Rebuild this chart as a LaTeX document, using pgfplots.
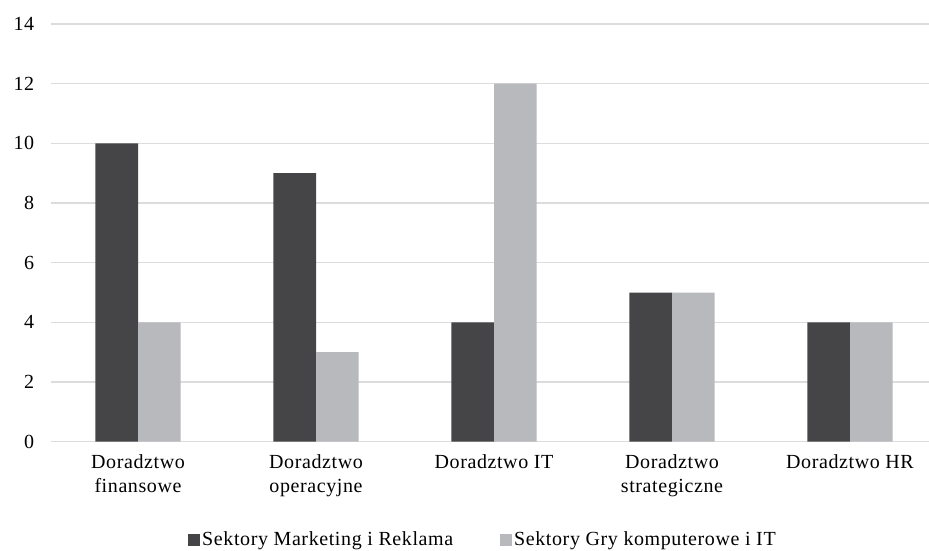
\documentclass[border=0pt]{standalone}
\usepackage{pgfplots}
\pgfplotsset{compat=1.18}
\usepackage{fontspec}
\setmainfont{Liberation Serif}[LetterSpace=3]
\definecolor{darkbar}{HTML}{454548}
\definecolor{lightbar}{HTML}{B8B9BC}
\definecolor{gridc}{HTML}{DCDCDC}
\begin{document}
\fontsize{20pt}{24pt}\selectfont
\begin{tikzpicture}
\path[use as bounding box] (0,0) rectangle (929pt,551pt);
\begin{axis}[
  at={(51pt,109.3pt)}, anchor=south west,
  scale only axis, width=878pt, height=417.7pt,
  xmin=-0.4888, xmax=4.4438,
  ymin=0, ymax=14,
  ytick={0,2,...,14},
  xtick={0,1,2,3,4},
  xticklabels={{Doradztwo\\finansowe},{Doradztwo\\operacyjne},{Doradztwo IT},{Doradztwo\\strategiczne},{Doradztwo HR}},
  xticklabel style={align=center, font=\fontsize{20pt}{24pt}\selectfont, yshift=-6pt},
  yticklabel style={font=\fontsize{20pt}{24pt}\selectfont, xshift=-10pt},
  /pgf/number format/assume math mode=true,
  axis line style={draw=none},
  major tick length=0pt,
  ymajorgrids, grid style={gridc, line width=1.3pt},
  ybar, bar width=0.239, 
  legend style={at={(0.492,-0.235)}, anchor=center, draw=none, legend columns=2,
    font=\fontsize{20pt}{24pt}\selectfont,
    /tikz/every even column/.append style={column sep=45pt}},
  legend image code/.code={\fill[#1] (0pt,-6pt) rectangle (12pt,6pt);},
]
\addplot[fill=darkbar, draw=none, bar shift=-0.1195] coordinates {(0,10) (1,9) (2,4) (3,5) (4,4)};
\addplot[fill=lightbar, draw=none, bar shift=0.1195] coordinates {(0,4) (1,3) (2,12) (3,5) (4,4)};
\legend{Sektory Marketing i Reklama, Sektory Gry komputerowe i IT}
\end{axis}
\end{tikzpicture}
\end{document}
